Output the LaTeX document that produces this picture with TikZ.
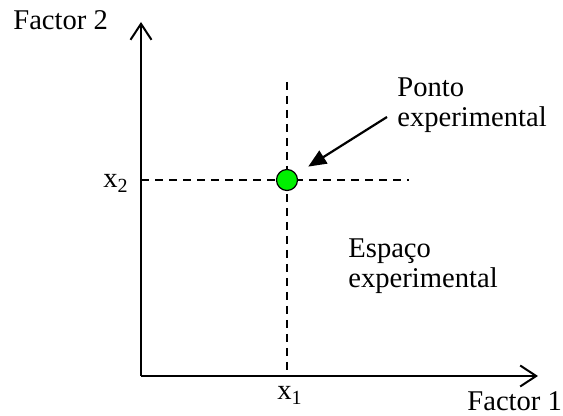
\documentclass[tikz,border=0pt]{standalone}
\usepackage{fontspec}
\setmainfont{Liberation Serif}
\usetikzlibrary{arrows.meta,positioning}
\definecolor{pointgreen}{HTML}{00F000}

\begin{document}
\begin{tikzpicture}[x=0.5pt,y=-0.5pt,font=\fontsize{14.3}{15}\selectfont,
  axis/.style={line width=1pt,-{Straight Barb[length=8pt,width=10.5pt,line width=1pt]}},
  guide/.style={line width=0.6pt,dash pattern=on 4pt off 3pt},
  pointer/.style={line width=1.1pt,-{Triangle[length=9pt,width=7.5pt]}},
  lbl/.style={inner sep=0pt,anchor=base west}]
  \useasboundingbox (0,0) rectangle (563,416);
  % axes
  \coordinate (origin) at (141,376);
  \coordinate (ytip) at (141,22);
  \coordinate (xtip) at (538,376);
  \coordinate (vtop) at (287,82);
  \coordinate (hend) at (409,180);
  \coordinate (hstart) at (141,180);
  \coordinate (vbot) at (287,376);
  \coordinate (arrowstart) at (387,117);
  \draw[guide] (vtop) -- (vbot);
  \draw[guide] (hstart) -- (hend);
  \draw[axis] (origin) -- (ytip);
  \draw[axis] (origin) -- (xtip);
  % experimental point
  \node[circle,draw,fill=pointgreen,minimum size=10.5pt,inner sep=0pt,line width=0.6pt] (pt) at (287,180) {};
  \draw[pointer,shorten >=7pt] (arrowstart) -- (pt);
  % labels (base = last line)
  \node[lbl] (f2) at (13,30) {Factor 2};
  \node[lbl] (f1) at (467,411) {Factor 1};
  \node[lbl] (x2) at (103,188) {x\textsubscript{2}};
  \node[lbl] (x1) at (277,400) {x\textsubscript{1}};
  \node[lbl,align=left] (ponto) at (397,127) {Ponto\\experimental};
  \node[lbl,align=left] (espaco) at (348,288) {Espaço\\experimental};
\end{tikzpicture}
\end{document}
